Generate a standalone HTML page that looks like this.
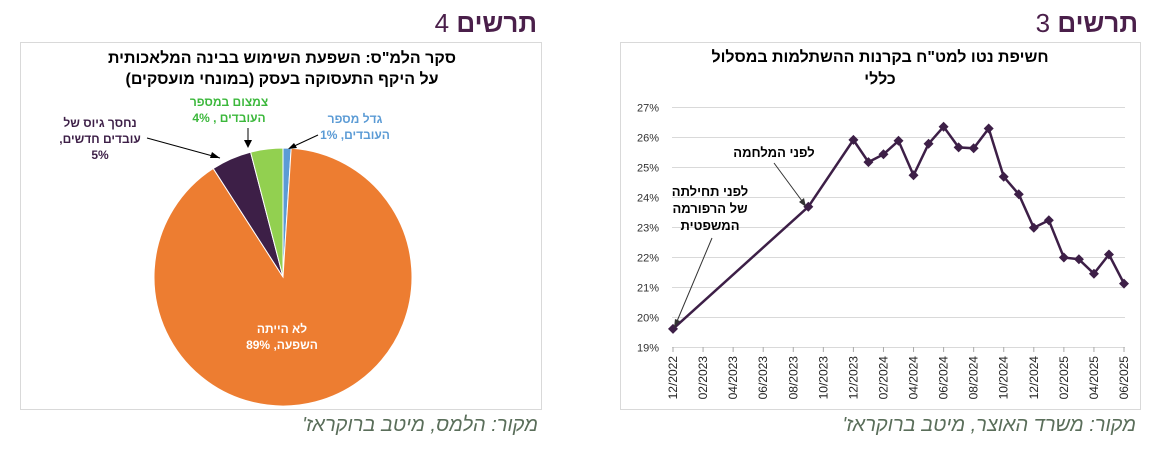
<!DOCTYPE html>
<html><head><meta charset="utf-8">
<style>
body{margin:0;width:1160px;height:458px;background:#fff;font-family:"Liberation Sans","Noto Sans CJK SC",sans-serif;overflow:hidden;position:relative}
.h{position:absolute;top:8px;font-size:26px;color:#4a1f4a;direction:rtl}
.h b{font-weight:bold}
.panel{position:absolute;top:42px;height:366px;border:1px solid #d9d9d9;background:#fff}
.src{position:absolute;top:414px;font-size:20px;font-style:italic;color:#5a6e5a;direction:rtl}
svg text{font-family:"Liberation Sans","Noto Sans CJK SC",sans-serif}
</style></head><body>
<div class="h" style="right:623px"><b>תרשים</b> 4</div>
<div class="h" style="right:22px"><b>תרשים</b> 3</div>
<div class="panel" style="left:20px;width:520px"></div>
<div class="panel" style="left:620px;width:519px"></div>
<div class="src" style="right:622px">מקור: הלמס, מיטב ברוקראז'</div>
<div class="src" style="right:24px">מקור: משרד האוצר, מיטב ברוקראז'</div>
<svg id="svg" width="1160" height="458" style="position:absolute;left:0;top:0">
<text x="282" y="63" text-anchor="middle" font-size="16" font-weight="bold" direction="rtl">סקר הלמ"ס: השפעת השימוש בבינה המלאכותית</text>
<text x="282" y="84" text-anchor="middle" font-size="16" font-weight="bold" direction="rtl">על היקף התעסוקה בעסק (במונחי מועסקים)</text>
<text x="880" y="62" text-anchor="middle" font-size="16" font-weight="bold" direction="rtl">חשיפת נטו למט"ח בקרנות ההשתלמות במסלול</text>
<text x="880" y="84" text-anchor="middle" font-size="16" font-weight="bold" direction="rtl">כללי</text>
<g id="pie"></g><g id="line"></g>
</svg>
<script>
const pieLabels=['גדל מספר העובדים','לא הייתה השפעה','נחסך גיוס של עובדים חדשים','צמצום במספר העובדים'];
const pieValues=[1,89,5,4];
const pieColors=['#5b9bd5','#ed7d31','#3d1f47','#92d050'];
const months=['12/2022','02/2023','04/2023','06/2023','08/2023','10/2023','12/2023','02/2024','04/2024','06/2024','08/2024','10/2024','12/2024','02/2025','04/2025','06/2025'];
const seriesIdx=[0,9,12,13,14,15,16,17,18,19,20,21,22,23,24,25,26,27,28,29,30];
const seriesVal=[19.62,23.69,25.92,25.18,25.44,25.89,24.74,25.79,26.36,25.67,25.64,26.3,24.69,24.11,22.99,23.24,22.0,21.94,21.46,22.1,21.13];
const yTicks=[19,20,21,22,23,24,25,26,27];
const NS='http://www.w3.org/2000/svg';
function mk(t,a,p){const e=document.createElementNS(NS,t);for(const k in a)e.setAttribute(k,a[k]);p.appendChild(e);return e;}
// pie
const pg=document.getElementById('pie');const cx=283,cy=277,r=129;
const tot=pieValues.reduce((a,b)=>a+b,0);let ang=0;
pieValues.forEach((v,i)=>{const a0=ang,a1=ang+v/tot*2*Math.PI;ang=a1;
const x0=cx+r*Math.sin(a0),y0=cy-r*Math.cos(a0),x1=cx+r*Math.sin(a1),y1=cy-r*Math.cos(a1);
const p=mk('path',{d:`M${cx},${cy}L${x0},${y0}A${r},${r} 0 ${a1-a0>Math.PI?1:0} 1 ${x1},${y1}Z`,fill:pieColors[i],stroke:'#fff','stroke-width':1},pg);

});
function tx(s,x,y,c,p,sz){const t=mk('text',{x:x,y:y,'text-anchor':'middle','font-size':sz||12,'font-weight':'bold',fill:c,direction:'rtl'},p);t.textContent=s;

return t;}
tx('גדל מספר',355,123,'#5b9bd5',pg);tx('העובדים, '+pieValues[0]+'%',355,139,'#5b9bd5',pg);
tx('צמצום במספר',229,106,'#3cb83c',pg);tx('העובדים , '+pieValues[3]+'%',229,122,'#3cb83c',pg);
tx('נחסך גיוס של',100,127,'#3d1f47',pg);tx('עובדים חדשים,',100,143,'#3d1f47',pg);tx(pieValues[2]+'%',100,159,'#3d1f47',pg);
tx('לא הייתה',282,333,'#fff',pg);tx('השפעה, '+pieValues[1]+'%',282,349,'#fff',pg);
mk('path',{d:'M147,138 L220,158',stroke:'#000',fill:'none'},pg);mk('path',{d:'M220,158l-8,-6l-2,6z',fill:'#000'},pg);
mk('path',{d:'M248,128 L248,145',stroke:'#000'},pg);mk('path',{d:'M244,140l4,8l4,-8z',fill:'#000'},pg);
mk('path',{d:'M318,135 L290,148',stroke:'#000'},pg);mk('path',{d:'M288,149l9,-1l-3,-5z',fill:'#000'},pg);
// line
const lg=document.getElementById('line');
const X=m=>673+m*(1124-673)/30, Y=v=>347.5-(v-19)*30;
yTicks.forEach(v=>{const l=mk('line',{x1:672,x2:1125,y1:Y(v),y2:Y(v),stroke:'#d9d9d9'},lg);


const t=mk('text',{x:659,y:Y(v)+4,'text-anchor':'end','font-size':11,fill:'#333'},lg);t.textContent=v+'%';

});
months.forEach((m,i)=>{const x=X(i*2);mk('line',{x1:x,x2:x,y1:347,y2:352,stroke:'#aaa'},lg);
const t=mk('text',{x:0,y:0,'text-anchor':'end','font-size':12,fill:'#222',transform:`translate(${x+4},356) rotate(-90)`},lg);t.textContent=m;

});
const pl=mk('polyline',{points:seriesIdx.map((m,i)=>X(m)+','+Y(seriesVal[i])).join(' '),fill:'none',stroke:'#3d1f47','stroke-width':2.5},lg);


seriesIdx.forEach((m,i)=>{const x=X(m),y=Y(seriesVal[i]);const d=mk('path',{d:`M${x},${y-5}L${x+5},${y}L${x},${y+5}L${x-5},${y}Z`,fill:'#3d1f47'},lg);

});
tx('לפני המלחמה',774,157,'#000',lg,13);
tx('לפני תחילתה',710,196,'#000',lg,13);tx('של הרפורמה',710,213,'#000',lg,13);tx('המשפטית',710,230,'#000',lg,13);
mk('path',{d:'M774,163 L805,205',stroke:'#333',fill:'none'},lg);mk('path',{d:'M806,207l-2,-9l-5,4z',fill:'#333'},lg);
mk('path',{d:'M712,238 L675,326',stroke:'#333',fill:'none'},lg);mk('path',{d:'M674,328l6,-7l-5,-2z',fill:'#333'},lg);
</script>
</body></html>
